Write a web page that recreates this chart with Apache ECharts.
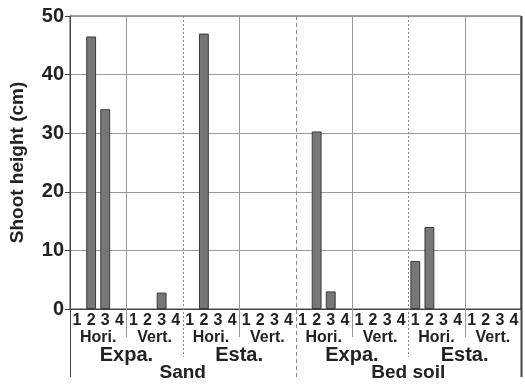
<!DOCTYPE html>
<html>
<head>
<meta charset="utf-8">
<script src="https://cdn.jsdelivr.net/npm/echarts@6/dist/echarts.min.js"></script>
<style>
  html, body { margin: 0; padding: 0; background: #fff; }
  #chart { width: 525px; height: 384px; }
</style>
</head>
<body>
<div id="chart"></div>
<script>
// ===== Data =====
const soils = ['Sand', 'Bed soil'];
const stages = ['Expa.', 'Esta.', 'Expa.', 'Esta.'];
const directions = ['Hori.', 'Vert.', 'Hori.', 'Vert.', 'Hori.', 'Vert.', 'Hori.', 'Vert.'];
const positions = ['1', '2', '3', '4'];
const yTicks = [0, 10, 20, 30, 40, 50];

// shoot height per position, Hori. 1-4 then Vert. 1-4
const sandExpa = [null, 46.5, 34.1, null, null, null, 2.8, null];
const sandEsta = [null, 47.0, null, null, null, null, null, null];
const bedExpa  = [null, 30.3, 3.0, null, null, null, null, null];
const bedEsta  = [8.2, 14.0, null, null, null, null, null, null];

// boundaries between groups: [category index, kind]
// kind 0 = direction (solid), 1 = stage (dotted), 2 = soil (dashed), 3 = frame edge
const dividers = [[0, 3], [4, 0], [8, 1], [12, 0], [16, 2], [20, 0], [24, 1], [28, 0], [32, 3]];

const heights = [...sandExpa, ...sandEsta, ...bedExpa, ...bedEsta];
const cats = heights.map((_, i) => positions[i % 4]);

const chart = echarts.init(document.getElementById('chart'), null, { renderer: 'canvas' });

const txt = '#222';
const font = 'Liberation Sans, Arial, sans-serif';

function subAxis(data, offset, size) {
  return {
    type: 'category', data, gridIndex: 0, position: 'bottom', offset,
    axisLine: { show: false }, axisTick: { show: false }, splitLine: { show: false },
    axisLabel: { interval: 0, margin: 0, color: txt, fontFamily: font, fontWeight: 'bold', fontSize: size }
  };
}

const option = {
  animation: false,
  grid: { left: 66, right: 4, top: 16, bottom: 75, show: true, borderColor: '#444', borderWidth: 1 },
  xAxis: [
    {
      type: 'category', data: cats,
      axisLine: { lineStyle: { color: '#444', width: 1 } },
      axisTick: { show: false },
      axisLabel: { interval: 0, margin: 4, color: txt, fontFamily: font, fontWeight: 'bold', fontSize: 16 }
    },
    subAxis(directions, 20.5, 16),
    subAxis(stages, 36, 20),
    subAxis(soils, 54.5, 19)
  ],
  yAxis: {
    type: 'value', min: yTicks[0], max: yTicks[yTicks.length - 1], interval: 10,
    name: 'Shoot height (cm)', nameLocation: 'middle', nameGap: 43,
    nameTextStyle: { color: txt, fontFamily: font, fontWeight: 'bold', fontSize: 19 },
    axisLine: { show: true, lineStyle: { color: '#444' } },
    axisTick: { show: true, length: 5, lineStyle: { color: '#444' } },
    axisLabel: { margin: 6, color: txt, fontFamily: font, fontWeight: 'bold', fontSize: 20 },
    splitLine: { lineStyle: { color: '#999', width: 1 } }
  },
  series: [
    {
      type: 'custom', xAxisIndex: 0, yAxisIndex: 0, clip: false, z: 1, silent: true,
      data: dividers,
      renderItem(params, api) {
        const pos = api.value(0), kind = api.value(1);
        const w = api.size([1, 0])[0];
        const x0 = api.coord([0, 0])[0] - w / 2;
        const x = Math.round(x0 + pos * w) + 0.5;
        const yTop = api.coord([0, 50])[1];
        const yZero = api.coord([0, 0])[1];
        const drop = [28, 48, 69, 68][kind];
        const style = [
          { stroke: '#999', lineWidth: 1 },
          { stroke: '#888', lineWidth: 1, lineDash: [2, 2] },
          { stroke: '#888', lineWidth: 1, lineDash: [4, 3] },
          { stroke: '#444', lineWidth: pos === 0 ? 1 : 2 }
        ][kind];
        return {
          type: 'line',
          shape: { x1: x, y1: yTop, x2: x, y2: yZero + drop },
          style
        };
      }
    },
    {
      type: 'bar', data: heights, barWidth: '70%', z: 3,
      itemStyle: { color: '#777', borderColor: '#3a3a3a', borderWidth: 1 }
    }
  ]
};

chart.setOption(option);
</script>
</body>
</html>
